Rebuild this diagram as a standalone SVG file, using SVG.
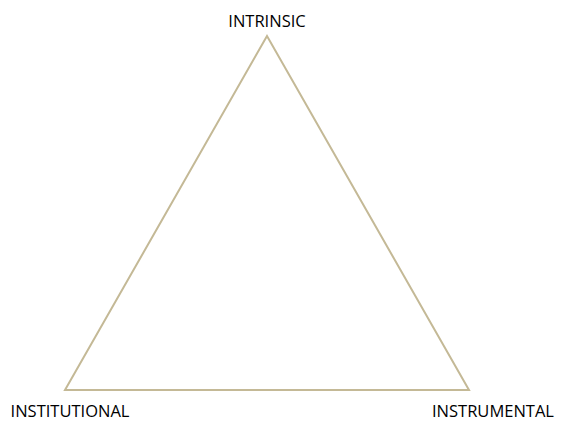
<svg xmlns="http://www.w3.org/2000/svg" width="563" height="421" viewBox="0 0 563 421">
<style>
.lbl{font-family:"Open Sans","Liberation Sans",Arial,sans-serif;font-size:16.5px;fill:#000}
.edge{fill:none;stroke:#C4B996;stroke-width:2}
</style>
<rect width="563" height="421" fill="#fff"/>
<g id="connectors">
<polygon class="edge" points="267,36 65,390 469,390"/>
</g>
<g id="node-intrinsic"><text class="lbl" x="267" y="27" text-anchor="middle">INTRINSIC</text></g>
<g id="node-institutional"><text class="lbl" x="70" y="417" text-anchor="middle">INSTITUTIONAL</text></g>
<g id="node-instrumental"><text class="lbl" x="493" y="417" text-anchor="middle">INSTRUMENTAL</text></g>
</svg>
